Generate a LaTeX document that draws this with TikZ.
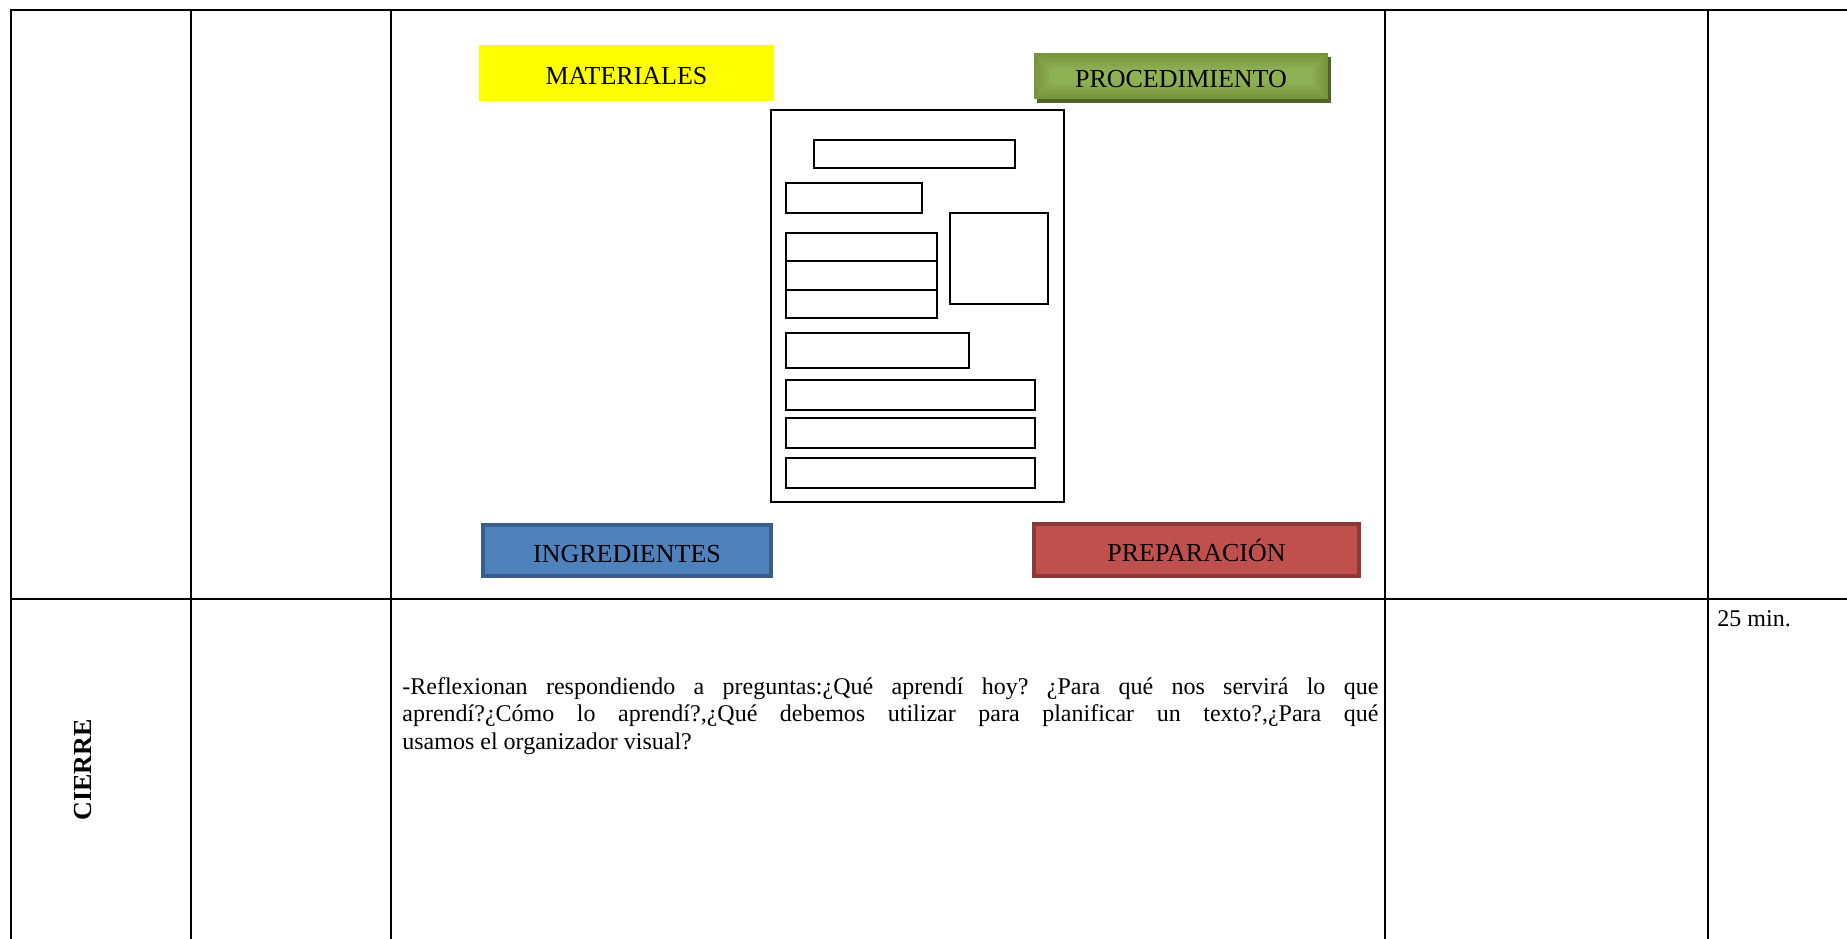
\documentclass[tikz,border=0pt]{standalone}
\usepackage{fontspec}
\setmainfont{Liberation Serif}
\frenchspacing
\definecolor{amarillo}{HTML}{FFFF00}
\definecolor{olivo}{HTML}{77933C}
\definecolor{olivoclaro}{HTML}{8FB255}
\definecolor{olivosombra}{HTML}{4F6228}
\definecolor{azul}{HTML}{4F81BD}
\definecolor{azulborde}{HTML}{385D8A}
\definecolor{rojo}{HTML}{C0504D}
\definecolor{rojoborde}{HTML}{8C3836}

\begin{document}
\begin{tikzpicture}[x=0.5pt,y=-0.5pt]
        \tikzset{etiqueta/.style = {inner sep=0pt, text height=11.6pt, text depth=0pt, font=\fontsize{13}{15}\selectfont},
                 linea/.style = {line width=1.3pt, line cap=rect},
                 hoja/.style = {line width=0.85pt}}
        \useasboundingbox (0,0) rectangle (1847,938);
        % tabla
        \foreach \x in {11,191,391,1385,1708}
            \draw[linea] (\x,10) -- (\x,938);
        \draw[linea] (11,10) -- (1847,10);
        \draw[linea] (11,599) -- (1847,599);
        % etiquetas
        \node[etiqueta, fill=amarillo, minimum width=147.5pt, minimum height=28pt] (materiales) at (626.5,73) {MATERIALES};
        \fill[olivosombra] (1037,57) rectangle (1331,103);
        \fill[olivo] (1034,53) rectangle (1328,99);
        \foreach \i [evaluate=\i as \p using \i*12] in {1,...,8}
            \fill[olivoclaro!\p!olivo] ({1034+2*\i},{53+2*\i}) rectangle ({1328-2*\i},{99-2*\i});
        \node[etiqueta, minimum width=147pt, minimum height=23pt] (procedimiento) at (1181,76) {PROCEDIMIENTO};
        \node[etiqueta, draw=azulborde, line width=2pt, fill=azul, minimum width=144pt, minimum height=25.5pt] (ingredientes) at (627,550.5) {INGREDIENTES};
        \node[etiqueta, draw=rojoborde, line width=2pt, fill=rojo, minimum width=162.5pt, minimum height=26pt] (preparacion) at (1196.5,550) {PREPARACIÓN};
        % hoja
        \draw[hoja, line width=1pt] (771,110) rectangle (1064,502);
        \draw[hoja] (814,140) rectangle (1015,168);
        \draw[hoja] (786,183) rectangle (922,213);
        \draw[hoja] (950,213) rectangle (1048,304);
        \draw[hoja] (786,233) rectangle (937,318);
        \draw[hoja] (786,261) -- (937,261) (786,290) -- (937,290);
        \draw[hoja] (786,333) rectangle (969,368);
        \foreach \y in {380,418,458}
            \draw[hoja] (786,\y) rectangle (1035,\y+30);
        % cierre
        \node[rotate=90, font=\bfseries\fontsize{13}{15}\selectfont] (cierre) at (83,770) {CIERRE};
        \node[anchor=north west, inner sep=0pt, text width=488pt, align=justify, font=\fontsize{12}{13.8}\selectfont] (reflexion) at (402,677)
            {-Reflexionan respondiendo a preguntas:¿Qué aprendí hoy? ¿Para qué nos servirá lo que\linebreak aprendí?¿Cómo lo aprendí?,¿Qué debemos utilizar para planificar un texto?,¿Para qué\linebreak usamos el organizador visual?};
        \node[anchor=base west, inner sep=0pt, font=\fontsize{12}{13.8}\selectfont] (tiempo) at (1717,626.5) {25 min.};
    \end{tikzpicture}
\end{document}
